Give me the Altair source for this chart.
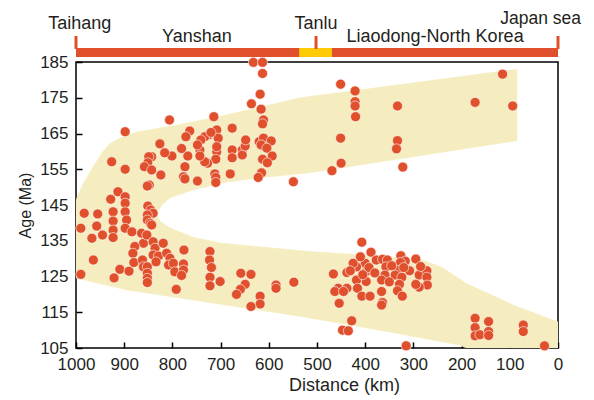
import altair as alt
import pandas as pd

# ---------------- data ----------------
distance_km = [
    632, 613, 613, 618, 636, 616, 611, 613, 620, 611, 595, 609, 616, 604, 593, 613, 603, 615, 622, 549,
    676, 676, 676, 680, 655, 655, 649, 648, 714, 708, 705, 725, 733, 741, 720, 708, 708, 710, 712, 710,
    710, 727, 733, 743, 748, 743, 748, 764, 772, 768, 781, 774, 777, 774, 801, 806, 816, 826, 824, 843,
    849, 851, 858, 843, 848, 852, 898, 898, 926, 913, 928, 898, 898,
    898, 895, 923, 923, 923, 923, 955, 957, 983, 990, 967, 945, 964, 990, 921, 909, 890, 898, 884, 851,
    845, 840, 852, 852, 846, 843, 864, 860, 853, 878, 882, 880, 862, 860, 852, 852, 852, 852, 840, 836,
    840, 829, 834, 819, 812, 805, 808, 798, 795, 776, 777, 777, 781, 792, 722, 723, 719, 722, 722, 701,
    658, 637, 649, 659, 667, 618, 618, 637, 585, 585, 548,
    407, 388, 377, 364, 354, 326, 317, 327, 295, 308, 329, 338, 324, 329, 333, 323, 288, 272, 272, 271,
    288, 295, 357, 359, 366, 366, 364, 366, 397, 398, 400, 418, 425, 438, 431, 466, 418, 438, 456, 463,
    445, 416, 407, 390, 454, 428, 447, 435, 315, 172, 172, 172, 162, 144, 144, 144, 72, 72, 28,
    392, 345, 350, 410, 320, 285, 405, 380,
    451, 421, 421, 421, 420, 333, 172, 115, 94, 451, 333, 335, 322, 450, 469,
]
age_ma = [
    184.9, 184.9, 181.8, 176.0, 173.3, 171.8, 168.8, 167.7, 162.7, 163.7, 162.9, 161.3, 161.8, 160.9, 158.7, 157.8, 156.8, 154.0, 152.7, 151.5,
    166.5, 160.4, 158.2, 153.7, 160.4, 159.0, 161.5, 163.2, 169.7, 166.0, 163.7, 164.6, 164.1, 163.2, 165.3, 159.9, 161.3, 157.8, 153.7, 152.7,
    151.3, 156.7, 157.1, 160.4, 161.8, 158.7, 151.7, 165.7, 164.1, 158.7, 160.8, 155.7, 152.9, 152.3, 158.7, 168.8, 159.6, 162.1, 153.4, 158.5,
    158.5, 156.8, 155.7, 154.8, 150.6, 150.3, 165.5, 155.0, 157.1, 148.7, 146.6, 147.3, 145.5,
    143.1, 140.8, 143.1, 140.5, 138.0, 135.9, 142.5, 139.1, 142.7, 138.5, 135.7, 136.6, 129.6, 125.6, 124.6, 127.0, 126.5, 138.5, 137.5, 144.7,
    143.6, 142.7, 142.2, 140.8, 139.9, 139.4, 137.1, 134.3, 136.6, 133.4, 131.5, 128.9, 129.6, 127.7, 127.7, 125.9, 124.5, 123.3, 134.7, 132.9,
    131.0, 130.7, 129.1, 134.3, 131.5, 130.1, 128.2, 128.7, 126.3, 132.4, 128.5, 126.8, 125.3, 121.4, 132.0, 129.6, 127.5, 124.8, 122.4, 123.6,
    125.9, 125.6, 122.8, 121.4, 120.0, 119.5, 117.3, 116.6, 122.6, 121.7, 123.4,
    134.6, 131.8, 129.6, 129.8, 129.6, 130.8, 129.3, 128.9, 129.9, 126.6, 126.8, 125.4, 124.8, 122.8, 121.0, 119.5, 125.4, 126.6, 124.8, 122.6,
    122.0, 122.8, 127.7, 125.4, 124.0, 120.8, 117.7, 117.0, 126.5, 123.6, 128.7, 127.7, 128.7, 126.1, 126.6, 125.7, 124.0, 121.7, 121.7, 120.8,
    120.8, 121.7, 119.5, 119.5, 117.5, 112.6, 110.0, 109.8, 105.6, 113.3, 110.7, 108.4, 108.7, 112.4, 109.6, 108.5, 111.4, 109.6, 105.6,
    127.5, 128.0, 123.5, 130.5, 127.5, 127.8, 125.5, 126.0,
    178.8, 176.9, 173.9, 172.7, 169.7, 172.7, 173.7, 181.6, 172.7, 163.7, 163.0, 160.7, 155.6, 156.7, 154.6,
]

# outline of the shaded age-distance envelope (polygon, in drawing order)
band_distance = [
    1000, 985, 965, 945, 929, 900, 873, 830, 790, 700, 618, 535, 85,
    85, 515, 618, 687, 757, 805, 822, 832,
    826, 805, 757, 701, 618, 515, 400, 280, 240, 189, 140, 93, 0,
    0, 190, 203, 350, 515, 640, 757, 894, 1000,
]
band_age = [
    146.4, 151.0, 155.6, 159.8, 162.3, 164.3, 165.4, 166.5, 167.4, 169.8, 172.4, 175.0, 183.0,
    163.0, 154.0, 152.6, 151.4, 149.2, 147.0, 145.0, 142.6,
    140.5, 138.6, 136.0, 134.4, 133.3, 132.0, 131.0, 129.6, 127.5, 123.0, 120.0, 117.0, 112.3,
    105.0, 105.0, 105.8, 109.5, 113.4, 116.0, 118.4, 121.2, 124.6,
]

belt_start = [1000]
belt_end = [0]
tanlu_start = [537]
tanlu_end = [469]
boundary_marks = [1000, 502, 0]

lower_labels = ["Yanshan", "Liaodong-North Korea"]
lower_label_dist = [749, 255]
upper_labels = ["Taihang", "Tanlu"]
upper_label_dist = [992, 502]
top_labels = ["Japan sea"]
top_label_dist = [36]

x_ticks = list(range(0, 1001, 100))
y_ticks = list(range(105, 186, 10))

# ---------------- chart ----------------
RED = "#E0502D"
YELLOW = "#FFCB05"
BAND = "#F5EDC0"
FONT = "Liberation Sans"
INK = "#231F20"

pts = pd.DataFrame({"distance": distance_km, "age": age_ma})
band = pd.DataFrame({"distance": band_distance, "age": band_age,
                     "idx": list(range(len(band_distance)))})

x_scale = alt.Scale(domain=[0, 1000], reverse=True, nice=False)
y_scale = alt.Scale(domain=[105, 185], nice=False, zero=False)

x_axis = alt.Axis(values=x_ticks, format="d", title="Distance (km)", domain=False, grid=False,
                  tickSize=6, offset=-6, labelPadding=8, labelFontSize=17, titleFontSize=18,
                  titleFontWeight="normal", titleX=268, titlePadding=4, labelOverlap=False,
                  labelFlush=False)
y_axis = alt.Axis(values=y_ticks, format="d", title="Age (Ma)", domain=False, grid=False,
                  tickSize=6, offset=-6, labelPadding=8, labelFontSize=17, titleFontSize=16,
                  titleFontWeight="normal", titlePadding=6, labelOverlap=False,
                  labelFlush=False)

X = lambda f: alt.X(f, scale=x_scale, axis=x_axis, title="Distance (km)")

band_layer = alt.Chart(band).mark_line(fill=BAND, stroke=BAND, strokeWidth=0.5, clip=True).encode(
    x=X("distance:Q"),
    y=alt.Y("age:Q", scale=y_scale, axis=y_axis, title="Age (Ma)"),
    order="idx:Q",
)

pt_layer = alt.Chart(pts).mark_circle(size=100, color=RED, opacity=1, stroke="white",
                                      strokeWidth=0.6).encode(
    x=X("distance:Q"),
    y=alt.Y("age:Q", scale=y_scale, axis=y_axis, title="Age (Ma)"),
)

belt = alt.Chart(pd.DataFrame({"distance": belt_start, "end": belt_end})).mark_rect(color=RED).encode(
    x=X("distance:Q"), x2="end:Q", y=alt.value(-14), y2=alt.value(-5))
tanlu = alt.Chart(pd.DataFrame({"distance": tanlu_start, "end": tanlu_end})).mark_rect(color=YELLOW).encode(
    x=X("distance:Q"), x2="end:Q", y=alt.value(-14), y2=alt.value(-5))
marks = alt.Chart(pd.DataFrame({"distance": boundary_marks})).mark_rule(color=RED, strokeWidth=3).encode(
    x=X("distance:Q"), y=alt.value(-26), y2=alt.value(-13))

def labels(names, dists, yv, size=18):
    return alt.Chart(pd.DataFrame({"name": names, "distance": dists})).mark_text(
        font=FONT, fontSize=size, color=INK, align="center", baseline="alphabetic").encode(
        x=X("distance:Q"), y=alt.value(yv), text="name:N")

chart = alt.layer(
    band_layer, pt_layer, belt, tanlu, marks,
    labels(lower_labels, lower_label_dist, -20),
    labels(upper_labels, upper_label_dist, -33),
    labels(top_labels, top_label_dist, -38, 17.5),
).properties(
    width=482, height=286, autosize="none",
    padding={"left": 68, "top": 54, "right": 28, "bottom": 48},
).configure_view(
    stroke="#000000", strokeWidth=1.5
).configure_axis(
    labelFont=FONT, titleFont=FONT, labelColor=INK, titleColor=INK,
    tickColor="#000000", tickWidth=1.5,
)

chart.save("out.html", embed_options={"renderer": "svg", "actions": False})
